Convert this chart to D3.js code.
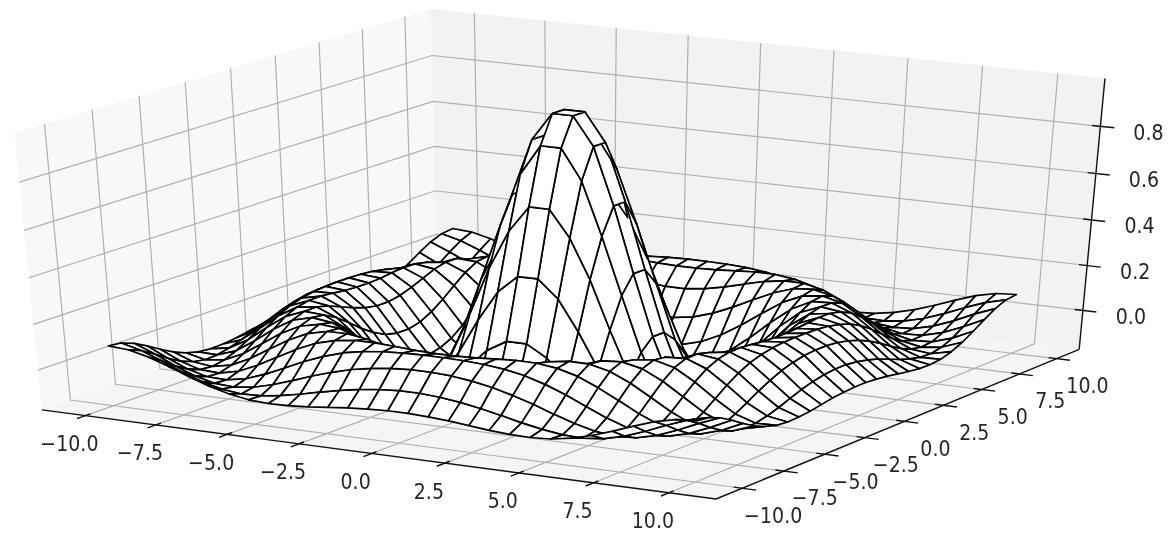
<!DOCTYPE html>
<html><head><meta charset="utf-8">
<script src="https://cdn.jsdelivr.net/npm/d3@7/dist/d3.min.js"></script>
<style>html,body{margin:0;padding:0;background:#fff}svg{display:block;filter:blur(0.5px)}text{font-family:"DejaVu Sans";fill:#262626}</style>
</head><body><svg id="c" width="1174" height="538"></svg>
<script>
const gridX = [-10,-9.31,-8.621,-7.931,-7.241,-6.552,-5.862,-5.172,-4.483,-3.793,-3.103,-2.414,-1.724,-1.034,-.345,.345,1.034,1.724,2.414,3.103,3.793,4.483,5.172,5.862,6.552,7.241,7.931,8.621,9.31,10];
const gridY = gridX.slice();
const zRows = [
[.071,.065,.045,.015,-.018,-.048,-.071,-.086,-.091,-.089,-.083,-.074,-.065,-.059,-.055,-.055,-.059,-.065,-.074,-.083,-.089,-.091,-.086,-.071,-.048,-.018,.015,.045,.065,.071],
[.065,.043,.010,-.027,-.059,-.081,-.091,-.088,-.076,-.059,-.039,-.020,-.005,.006,.012,.012,.006,-.005,-.020,-.039,-.059,-.076,-.088,-.091,-.081,-.059,-.027,.010,.043,.065],
[.045,.010,-.030,-.064,-.086,-.091,-.081,-.059,-.030,.001,.028,.051,.067,.078,.083,.083,.078,.067,.051,.028,.001,-.030,-.059,-.081,-.091,-.086,-.064,-.030,.010,.045],
[.015,-.027,-.064,-.087,-.090,-.074,-.043,-.005,.034,.067,.093,.109,.119,.124,.126,.126,.124,.119,.109,.093,.067,.034,-.005,-.043,-.074,-.090,-.087,-.064,-.027,.015],
[-.018,-.059,-.086,-.090,-.071,-.034,.012,.056,.093,.116,.127,.128,.123,.117,.114,.114,.117,.123,.128,.127,.116,.093,.056,.012,-.034,-.071,-.090,-.086,-.059,-.018],
[-.048,-.081,-.091,-.074,-.034,.017,.067,.106,.126,.127,.114,.092,.070,.052,.042,.042,.052,.070,.092,.114,.127,.126,.106,.067,.017,-.034,-.074,-.091,-.081,-.048],
[-.071,-.091,-.081,-.043,.012,.067,.109,.128,.121,.092,.052,.009,-.028,-.055,-.068,-.068,-.055,-.028,.009,.052,.092,.121,.128,.109,.067,.012,-.043,-.081,-.091,-.071],
[-.086,-.088,-.059,-.005,.056,.106,.128,.117,.078,.020,-.041,-.095,-.136,-.160,-.172,-.172,-.160,-.136,-.095,-.041,.020,.078,.117,.128,.106,.056,-.005,-.059,-.088,-.086],
[-.091,-.076,-.030,.034,.093,.126,.121,.078,.009,-.068,-.136,-.183,-.207,-.216,-.217,-.217,-.216,-.207,-.183,-.136,-.068,.009,.078,.121,.126,.093,.034,-.030,-.076,-.091],
[-.089,-.059,.001,.067,.116,.127,.092,.020,-.068,-.148,-.200,-.217,-.200,-.170,-.150,-.150,-.170,-.200,-.217,-.200,-.148,-.068,.020,.092,.127,.116,.067,.001,-.059,-.089],
[-.083,-.039,.028,.093,.127,.114,.052,-.041,-.136,-.200,-.216,-.170,-.080,.005,.055,.055,.005,-.080,-.170,-.216,-.200,-.136,-.041,.052,.114,.127,.093,.028,-.039,-.083],
[-.074,-.020,.051,.109,.128,.092,.009,-.095,-.183,-.217,-.170,-.040,.110,.240,.315,.315,.240,.110,-.040,-.170,-.217,-.183,-.095,.009,.092,.128,.109,.051,-.020,-.074],
[-.065,-.005,.067,.119,.123,.070,-.028,-.136,-.207,-.200,-.080,.110,.315,.480,.590,.590,.480,.315,.110,-.080,-.200,-.207,-.136,-.028,.070,.123,.119,.067,-.005,-.065],
[-.059,.006,.078,.124,.117,.052,-.055,-.160,-.216,-.170,.005,.240,.480,.700,.825,.825,.700,.480,.240,.005,-.170,-.216,-.160,-.055,.052,.117,.124,.078,.006,-.059],
[-.055,.012,.083,.126,.114,.042,-.068,-.172,-.217,-.150,.055,.315,.590,.825,.940,.940,.825,.590,.315,.055,-.150,-.217,-.172,-.068,.042,.114,.126,.083,.012,-.055],
[-.055,.012,.083,.126,.114,.042,-.068,-.172,-.217,-.150,.055,.315,.590,.825,.940,.940,.825,.590,.315,.055,-.150,-.217,-.172,-.068,.042,.114,.126,.083,.012,-.055],
[-.059,.006,.078,.124,.117,.052,-.055,-.160,-.216,-.170,.005,.240,.480,.700,.825,.825,.700,.480,.240,.005,-.170,-.216,-.160,-.055,.052,.117,.124,.078,.006,-.059],
[-.065,-.005,.067,.119,.123,.070,-.028,-.136,-.207,-.200,-.080,.110,.315,.480,.590,.590,.480,.315,.110,-.080,-.200,-.207,-.136,-.028,.070,.123,.119,.067,-.005,-.065],
[-.074,-.020,.051,.109,.128,.092,.009,-.095,-.183,-.217,-.170,-.040,.110,.240,.315,.315,.240,.110,-.040,-.170,-.217,-.183,-.095,.009,.092,.128,.109,.051,-.020,-.074],
[-.083,-.039,.028,.093,.127,.114,.052,-.041,-.136,-.200,-.216,-.170,-.080,.005,.055,.055,.005,-.080,-.170,-.216,-.200,-.136,-.041,.052,.114,.127,.093,.028,-.039,-.083],
[-.089,-.059,.001,.067,.116,.127,.092,.020,-.068,-.148,-.200,-.217,-.200,-.170,-.150,-.150,-.170,-.200,-.217,-.200,-.148,-.068,.020,.092,.127,.116,.067,.001,-.059,-.089],
[-.091,-.076,-.030,.034,.093,.126,.121,.078,.009,-.068,-.136,-.183,-.207,-.216,-.217,-.217,-.216,-.207,-.183,-.136,-.068,.009,.078,.121,.126,.093,.034,-.030,-.076,-.091],
[-.086,-.088,-.059,-.005,.056,.106,.128,.117,.078,.020,-.041,-.095,-.136,-.160,-.172,-.172,-.160,-.136,-.095,-.041,.020,.078,.117,.128,.106,.056,-.005,-.059,-.088,-.086],
[-.071,-.091,-.081,-.043,.012,.067,.109,.128,.121,.092,.052,.009,-.028,-.055,-.068,-.068,-.055,-.028,.009,.052,.092,.121,.128,.109,.067,.012,-.043,-.081,-.091,-.071],
[-.048,-.081,-.091,-.074,-.034,.017,.067,.106,.126,.127,.114,.092,.070,.052,.042,.042,.052,.070,.092,.114,.127,.126,.106,.067,.017,-.034,-.074,-.091,-.081,-.048],
[-.018,-.059,-.086,-.090,-.071,-.034,.012,.056,.093,.116,.127,.128,.123,.117,.114,.114,.117,.123,.128,.127,.116,.093,.056,.012,-.034,-.071,-.090,-.086,-.059,-.018],
[.015,-.027,-.064,-.087,-.090,-.074,-.043,-.005,.034,.067,.093,.109,.119,.124,.126,.126,.124,.119,.109,.093,.067,.034,-.005,-.043,-.074,-.090,-.087,-.064,-.027,.015],
[.045,.010,-.030,-.064,-.086,-.091,-.081,-.059,-.030,.001,.028,.051,.067,.078,.083,.083,.078,.067,.051,.028,.001,-.030,-.059,-.081,-.091,-.086,-.064,-.030,.010,.045],
[.065,.043,.010,-.027,-.059,-.081,-.091,-.088,-.076,-.059,-.039,-.020,-.005,.006,.012,.012,.006,-.005,-.020,-.039,-.059,-.076,-.088,-.091,-.081,-.059,-.027,.010,.043,.065],
[.071,.065,.045,.015,-.018,-.048,-.071,-.086,-.091,-.089,-.083,-.074,-.065,-.059,-.055,-.055,-.059,-.065,-.074,-.083,-.089,-.091,-.086,-.071,-.048,-.018,.015,.045,.065,.071]
];
const xyTicks = [-10,-7.5,-5,-2.5,0,2.5,5,7.5,10];
const xyTickLabels = ["\u221210.0","\u22127.5","\u22125.0","\u22122.5","0.0","2.5","5.0","7.5","10.0"];
const zTicks = [0,.2,.4,.6,.8];
const zTickLabels = ["0.0","0.2","0.4","0.6","0.8"];
const xyLimit = [-11.55,11.55];
const zLimitAxis = [-.176,1.0];
const zLimitSurface = [-.19,.97];

const sx = d3.scaleLinear().domain(xyLimit).range([-.5,.5]);
const sy = d3.scaleLinear().domain(xyLimit).range([-.5,.5]);
const szA = d3.scaleLinear().domain(zLimitAxis).range([-.5,.5]);
const szS = d3.scaleLinear().domain(zLimitSurface).range([-.5,.5]);
const screenX = d3.scaleLinear().domain([-.07,.07]).range([568.6-544.67,568.6+544.67]);
const screenY = d3.scaleLinear().domain([-.08,.08]).range([245.6+252.8,245.6-252.8]);
const u=[.8660254,.5,0], v=[-.25,.4330127,.8660254], n=[.4330127,-.75,.5], dist=10;
const dot=(a,b)=>a[0]*b[0]+a[1]*b[1]+a[2]*b[2];
function proj(q){const D=dist-dot(n,q);return [screenX(dot(u,q)/D),screenY(dot(v,q)/D),D];}
const svg=d3.select("#c");
const line=d3.line().x(d=>d[0]).y(d=>d[1]);
const lo=-.5,hi=.5;
function poly(pts,fill){svg.append("path").attr("d",line(pts.map(proj))+"Z").attr("fill",fill).attr("stroke","none");}
function seg(pts,col,w){svg.append("path").attr("d",line(pts.map(proj))).attr("fill","none").attr("stroke",col).attr("stroke-width",w);}
// panes
poly([[lo,lo,lo],[lo,hi,lo],[lo,hi,hi],[lo,lo,hi]],"rgba(242,242,242,.5)");
poly([[lo,hi,lo],[hi,hi,lo],[hi,hi,hi],[lo,hi,hi]],"rgba(230,230,230,.5)");
poly([[lo,lo,lo],[hi,lo,lo],[hi,hi,lo],[lo,hi,lo]],"rgba(236,236,236,.5)");
// grid
const gc="#b0b0b0",gw=1.2;
xyTicks.forEach(t=>{const q=sx(t);seg([[q,lo,lo],[q,hi,lo],[q,hi,hi]],gc,gw);});
xyTicks.forEach(t=>{const q=sy(t);seg([[hi,q,lo],[lo,q,lo],[lo,q,hi]],gc,gw);});
zTicks.forEach(t=>{const q=szA(t);seg([[lo,lo,q],[lo,hi,q],[hi,hi,q]],gc,gw);});
// axis lines
const ac="#111",aw=1.4;
seg([[lo,lo,lo],[hi,lo,lo]],ac,aw);
seg([[hi,lo,lo],[hi,hi,lo]],ac,aw);
seg([[hi,hi,lo],[hi,hi,hi]],ac,aw);
// ticks and labels
function label(p,dx,dy,s){svg.append("text").attr("transform",`translate(${p[0]+dx},${p[1]+dy}) scale(1,1.12)`).attr("text-anchor","middle").attr("dominant-baseline","central").attr("font-size",19).text(s);}
xyTicks.forEach((t,i)=>{const q=sx(t);seg([[q,lo-.02,lo],[q,lo+.012,lo]],ac,aw);label(proj([q,lo,lo]),-16,28,xyTickLabels[i]);});
xyTicks.forEach((t,i)=>{const q=sy(t);seg([[hi+.02,q,lo],[hi-.012,q,lo]],ac,aw);label(proj([hi,q,lo]),31,27,xyTickLabels[i]);});
zTicks.forEach((t,i)=>{const q=szA(t);seg([[hi+.02,hi,q],[hi-.012,hi,q]],ac,aw);label(proj([hi,hi,q]),48,6,zTickLabels[i]);});
// surface
const faces=[];
for(let j=0;j<gridY.length-1;j++)for(let i=0;i<gridX.length-1;i++){
  const c=[[i,j],[i+1,j],[i+1,j+1],[i,j+1]].map(([a,b])=>proj([sx(gridX[a]),sy(gridY[b]),szS(zRows[b][a])]));
  faces.push({c,d:d3.mean(c,p=>p[2])});
}
faces.sort((a,b)=>b.d-a.d);
svg.append("g").selectAll("path").data(faces).join("path")
  .attr("d",f=>line(f.c)+"Z").attr("fill","#fff").attr("stroke","#000").attr("stroke-width",1.7).attr("stroke-linejoin","round");
</script></body></html>
